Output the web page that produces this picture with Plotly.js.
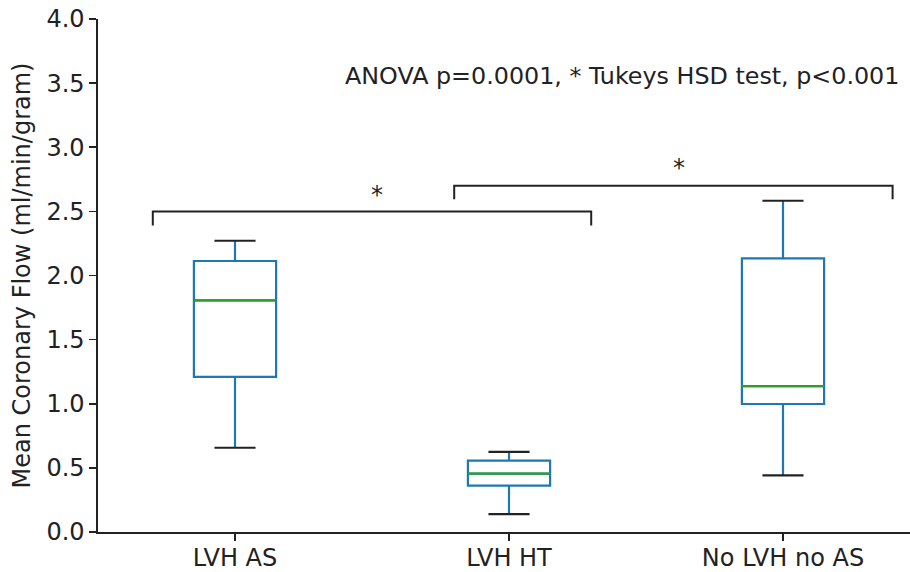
<!DOCTYPE html>
<html>
<head>
<meta charset="utf-8">
<script src="https://cdn.plot.ly/plotly-3.0.1.min.js"></script>
<style>html,body{margin:0;padding:0;background:#fff;}#chart{width:910px;height:572px;}</style>
</head>
<body>
<div id="chart"></div>
<script>
// Data
const categories = ["LVH AS", "LVH HT", "No LVH no AS"];
const positions = [1, 2, 3];
const q1Values = [1.209, 0.361, 0.998];
const medianValues = [1.806, 0.455, 1.138];
const q3Values = [2.113, 0.556, 2.134];
const lowerWhisker = [0.657, 0.140, 0.442];
const upperWhisker = [2.271, 0.624, 2.583];

// significance brackets: [x start, x end, bar height, end drop height]
const bracket1 = {x0: 0.70, x1: 2.30, y: 2.50, yEnd: 2.39};
const bracket2 = {x0: 1.80, x1: 3.40, y: 2.70, yEnd: 2.595};
const starLabels = ["*", "*"];
const starX = [1.52, 2.62];
const starY = [2.625, 2.835];
const anovaText = "ANOVA p=0.0001, * Tukeys HSD test, p<0.001";

const boxWidth = 0.3;
const capWidth = 0.15;
const dark = "#222222";
const font = "DejaVu Sans, sans-serif";
const fsize = 24;

const traces = [];
traces.push({
  type: "box",
  x: positions,
  q1: q1Values,
  median: medianValues,
  q3: q3Values,
  lowerfence: lowerWhisker,
  upperfence: upperWhisker,
  width: boxWidth,
  whiskerwidth: 0,
  boxpoints: false,
  line: {color: "#1f77b4", width: 2.2},
  fillcolor: "rgba(0,0,0,0)",
  hoverinfo: "skip"
});

// medians in green
const mx = [], my = [];
positions.forEach((p, i) => {
  mx.push(p - boxWidth / 2, p + boxWidth / 2, null);
  my.push(medianValues[i], medianValues[i], null);
});
traces.push({type: "scatter", mode: "lines", x: mx, y: my,
  line: {color: "#2ca02c", width: 2.2}, hoverinfo: "skip"});

// caps in black
const cx = [], cy = [];
positions.forEach((p, i) => {
  cx.push(p - capWidth / 2, p + capWidth / 2, null);
  cy.push(lowerWhisker[i], lowerWhisker[i], null);
  cx.push(p - capWidth / 2, p + capWidth / 2, null);
  cy.push(upperWhisker[i], upperWhisker[i], null);
});
traces.push({type: "scatter", mode: "lines", x: cx, y: cy,
  line: {color: dark, width: 2.2}, hoverinfo: "skip"});

// brackets
const bx = [], by = [];
[bracket1, bracket2].forEach(b => {
  bx.push(b.x0, b.x0, b.x1, b.x1, null);
  by.push(b.yEnd, b.y, b.y, b.yEnd, null);
});
traces.push({type: "scatter", mode: "lines", x: bx, y: by,
  line: {color: dark, width: 2}, hoverinfo: "skip"});

const annotations = starLabels.map((s, i) => ({
  x: starX[i], y: starY[i], xref: "x", yref: "y", text: s, showarrow: false,
  font: {family: font, size: fsize, color: dark}, xanchor: "center", yanchor: "middle"
}));
annotations.push({
  x: 3.431, y: 3.556, xref: "x", yref: "y", text: anovaText, showarrow: false,
  font: {family: font, size: 23.8, color: dark}, xanchor: "right", yanchor: "middle"
});

const layout = {
  width: 910, height: 572,
  margin: {l: 98, r: 0, t: 19, b: 40},
  paper_bgcolor: "#fff", plot_bgcolor: "#fff",
  showlegend: false,
  font: {family: font, size: fsize, color: dark},
  xaxis: {
    range: [0.5, 3.4635], tickvals: positions, ticktext: categories,
    showgrid: false, zeroline: false, showline: true, linecolor: dark, linewidth: 1.6,
    ticks: "outside", ticklen: 7, tickwidth: 1.6, tickcolor: dark,
    ticklabelstandoff: -3,
    tickfont: {family: font, size: fsize, color: dark}
  },
  yaxis: {
    range: [0, 4], dtick: 0.5, tick0: 0, tickformat: ".1f",
    showgrid: false, zeroline: false, showline: true, linecolor: dark, linewidth: 1.6,
    ticks: "outside", ticklen: 7, tickwidth: 1.6, tickcolor: dark,
    tickfont: {family: font, size: fsize, color: dark},
    title: {text: "Mean Coronary Flow (ml/min/gram)", font: {family: font, size: fsize, color: dark}, standoff: 9}
  },
  annotations: annotations
};

Plotly.newPlot("chart", traces, layout, {staticPlot: true, displayModeBar: false});
</script>
</body>
</html>
